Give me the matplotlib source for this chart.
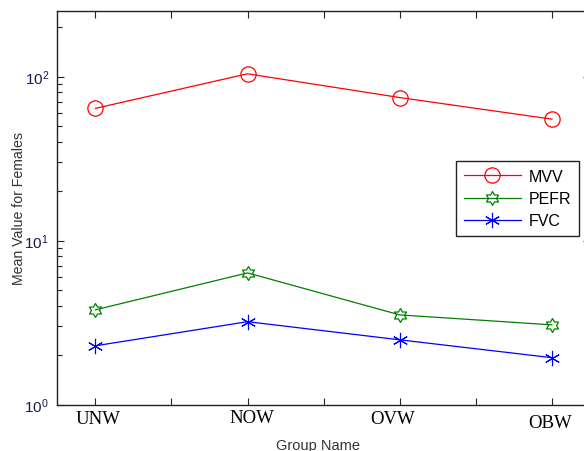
import numpy as np
import matplotlib
matplotlib.use("Agg")
import matplotlib.pyplot as plt
from matplotlib.path import Path
from matplotlib.transforms import ScaledTranslation

plt.rcParams['font.family'] = ['Liberation Sans', 'DejaVu Sans']
plt.rcParams['mathtext.default'] = 'regular'

groups = ["UNW", "NOW", "OVW", "OBW"]
mvv = [64.0, 104.0, 74.5, 55.0]
pefr = [3.78, 6.35, 3.52, 3.06]
fvc = [2.28, 3.2, 2.48, 1.93]
series_names = ["MVV", "PEFR", "FVC"]

# hexagram marker
ang = np.deg2rad(90 + 30 * np.arange(12))
rad = np.where(np.arange(12) % 2 == 0, 1.0, 1 / np.sqrt(3))
verts = np.column_stack([rad * np.cos(ang), rad * np.sin(ang)])
verts = np.vstack([verts, verts[:1]])
codes = [Path.MOVETO] + [Path.LINETO] * 11 + [Path.CLOSEPOLY]
hexagram = Path(verts, codes)

W, H = 584, 452
fig = plt.figure(figsize=(W / 100, H / 100), dpi=100)
left, right, top, bottom = 57.3, 590.0, 12.0, 405.5
ax = fig.add_axes([left / W, 1 - bottom / H, (right - left) / W, (bottom - top) / H])

x = np.arange(1, len(groups) + 1)
ax.plot(x, mvv, color='#ff0000', lw=0.9, marker='o', ms=11, mfc='none', mew=0.9, label=series_names[0])
ax.plot(x, pefr, color='#008000', lw=0.9, marker=hexagram, ms=10, mfc='none', mew=0.9, label=series_names[1])
ax.plot(x, fvc, color='#0000ff', lw=0.9, marker=(6, 2, 0), ms=11, mew=0.8, label=series_names[2])

ax.set_yscale('log')
ax.set_ylim(1, 10 ** 2.4)
ax.set_xlim(0.75, 4.25)

ax.set_xticks(x)
ax.set_xticks(np.arange(1.5, 4.0, 1.0), minor=True)
ax.set_xticklabels(groups, family='Liberation Serif', fontsize=13.5)
ax.tick_params(axis='both', which='both', direction='in', top=True, right=True, width=0.8, color='#222222')
ax.tick_params(axis='both', which='major', length=5)
ax.tick_params(axis='y', which='minor', length=3.5)
ax.tick_params(axis='x', which='minor', length=5)
ax.tick_params(axis='y', which='major', pad=6, labelsize=11, labelcolor='#1a1a50')
ax.tick_params(axis='x', which='major', pad=3)
ax.yaxis.set_minor_formatter(matplotlib.ticker.NullFormatter())

offsets = [(2, -1), (3, 0), (-5, -1), (-1, -3.5)]
for lab, (dx, dy) in zip(ax.get_xticklabels(), offsets):
    lab.set_transform(lab.get_transform() + ScaledTranslation(dx / 72, dy / 72, fig.dpi_scale_trans))

for s in ax.spines.values():
    s.set_linewidth(1.0)
    s.set_color('#222222')

ax.set_xlabel("Group Name", fontsize=10.5, color='#333333')
ax.xaxis.set_label_coords(0.4886, -0.086)
ax.set_ylabel("Mean Value for Females", fontsize=10.2, color='#333333')
ax.yaxis.set_label_coords(-0.058, 0.5)

leg = ax.legend(loc='upper right', bbox_to_anchor=(0.979, 0.619), borderaxespad=0,
                fancybox=False, edgecolor='#222222', fontsize=11.5, handlelength=3.6,
                labelspacing=0.45, borderpad=0.5, handletextpad=0.45, framealpha=1)
leg.get_frame().set_linewidth(1.0)

fig.savefig("out.png", dpi=100)
